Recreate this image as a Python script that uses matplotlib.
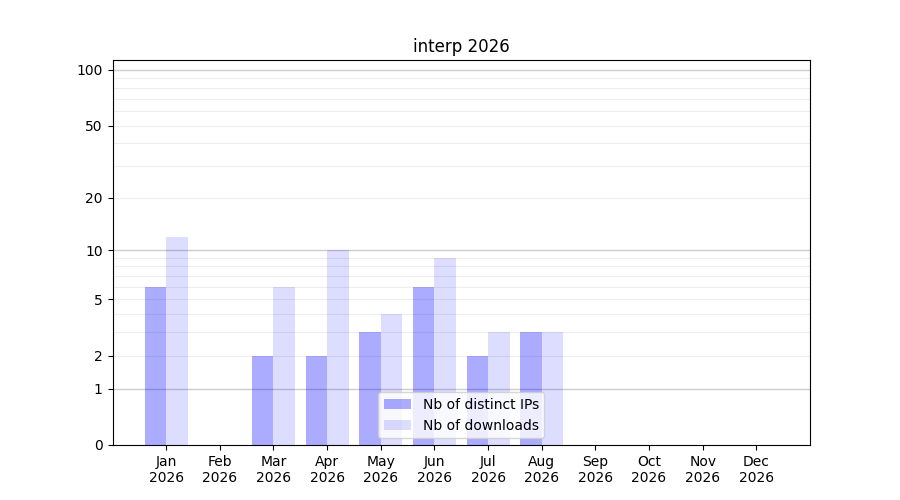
import numpy as np
import matplotlib
matplotlib.use("Agg")
import matplotlib.pyplot as plt

months = ["Jan", "Feb", "Mar", "Apr", "May", "Jun", "Jul", "Aug", "Sep", "Oct", "Nov", "Dec"]
year = "2026"
distinct_ips = [6, 0, 2, 2, 3, 6, 2, 3, 0, 0, 0, 0]
downloads = [12, 0, 6, 10, 4, 9, 3, 3, 0, 0, 0, 0]
ytick_values = [0, 1, 2, 5, 10, 20, 50, 100]
major_grid = [1, 10, 100]
minor_grid = [2, 3, 4, 5, 6, 7, 8, 9, 20, 30, 40, 50, 60, 70, 80, 90]

fig, ax = plt.subplots(figsize=(9, 5), dpi=100)
ax.set_yscale("function", functions=(lambda v: np.log10(1 + np.asarray(v, dtype=float)),
                                     lambda v: 10 ** np.asarray(v, dtype=float) - 1))

x = np.arange(len(months))
w = 0.4
for g in minor_grid:
    ax.axhline(g, color="#eeeeee", lw=0.8, zorder=0)
for g in major_grid:
    ax.axhline(g, color="#cccccc", lw=1.0, zorder=0)

ax.bar(x - w / 2, distinct_ips, width=w, color="blue", alpha=0.33, label="Nb of distinct IPs", zorder=2)
ax.bar(x + w / 2, downloads, width=w, color="blue", alpha=0.135, label="Nb of downloads", zorder=2)

ax.set_xticks(x)
ax.set_xticklabels([f"{m}\n{year}" for m in months])
ax.set_xlim(-1, 12)
ax.set_yticks(ytick_values)
ax.set_yticklabels([str(v) for v in ytick_values])
ax.yaxis.set_minor_locator(matplotlib.ticker.NullLocator())
ax.set_ylim(0, 113.2)
ax.set_title("interp 2026")
ax.legend(loc="lower center")

fig.savefig("out.png", dpi=100)
